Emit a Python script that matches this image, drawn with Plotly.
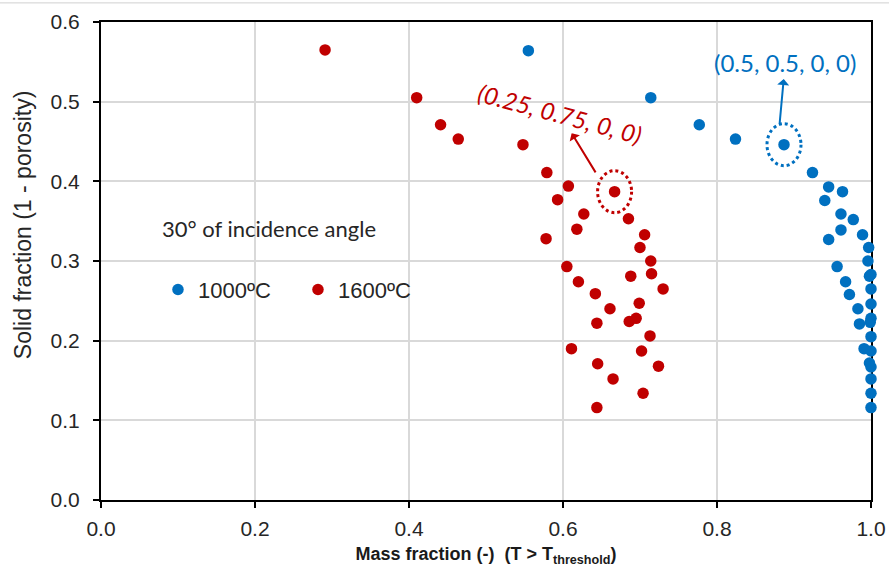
import plotly.graph_objects as go

# ---- data ----
x_1000 = [0.555, 0.714, 0.777, 0.824, 0.887, 0.924, 0.945, 0.963, 0.940, 0.961, 0.977, 0.961,
          0.989, 0.945, 0.997, 0.996, 0.956, 1.000, 0.998, 0.967, 1.000, 0.972, 1.000, 0.983,
          1.000, 0.999, 0.985, 1.000, 0.991, 1.000, 0.998, 1.000, 1.000, 1.000, 1.000]
y_1000 = [0.564, 0.505, 0.471, 0.453, 0.446, 0.411, 0.393, 0.387, 0.376, 0.359, 0.352, 0.339,
          0.333, 0.327, 0.317, 0.300, 0.293, 0.283, 0.281, 0.274, 0.265, 0.258, 0.246, 0.240,
          0.228, 0.223, 0.221, 0.205, 0.190, 0.187, 0.172, 0.167, 0.152, 0.134, 0.116]

x_1600 = [0.291, 0.410, 0.441, 0.464, 0.548, 0.579, 0.607, 0.667, 0.593, 0.627, 0.685, 0.618,
          0.706, 0.578, 0.700, 0.714, 0.605, 0.715, 0.688, 0.620, 0.730, 0.642, 0.699, 0.661,
          0.695, 0.686, 0.644, 0.713, 0.611, 0.702, 0.645, 0.724, 0.665, 0.704, 0.644]
y_1600 = [0.565, 0.505, 0.471, 0.453, 0.446, 0.411, 0.394, 0.387, 0.377, 0.359, 0.353, 0.340,
          0.333, 0.328, 0.317, 0.300, 0.293, 0.284, 0.281, 0.274, 0.265, 0.259, 0.247, 0.240,
          0.228, 0.224, 0.222, 0.206, 0.190, 0.187, 0.171, 0.168, 0.152, 0.134, 0.116]

series_names = ["1000ºC", "1600ºC"]
highlight_1000 = 4   # (0.5, 0.5, 0, 0)
highlight_1600 = 7   # (0.25, 0.75, 0, 0)
label_1000 = "(0.5, 0.5, 0, 0)"
label_1600 = "(0.25, 0.75, 0, 0)"
note_text = "30° of incidence angle"

x_ticks = [0.0, 0.2, 0.4, 0.6, 0.8, 1.0]
y_ticks = [0.0, 0.1, 0.2, 0.3, 0.4, 0.5, 0.6]

BLUE = "#0070C0"
RED = "#C00000"
ARIAL = "Liberation Sans, Arial, sans-serif"
TICKFONT = dict(family=ARIAL, size=21, color="#262626")

fig = go.Figure()
fig.add_trace(go.Scatter(x=x_1000, y=y_1000, mode="markers", name=series_names[0],
                         marker=dict(color=BLUE, size=11.5), cliponaxis=False))
fig.add_trace(go.Scatter(x=x_1600, y=y_1600, mode="markers", name=series_names[1],
                         marker=dict(color=RED, size=11.5), cliponaxis=False))

# dotted ellipses around the highlighted points
for xs, ys, idx, col in [(x_1000, y_1000, highlight_1000, BLUE), (x_1600, y_1600, highlight_1600, RED)]:
    fig.add_shape(type="circle", xref="x", yref="y", xsizemode="pixel", ysizemode="pixel",
                  xanchor=xs[idx], yanchor=ys[idx], x0=-17, x1=17, y0=-21, y1=21,
                  line=dict(color=col, width=3, dash="dot"))

# thin light border line at the very top of the image
fig.add_shape(type="line", xref="paper", yref="paper", x0=-0.14, x1=1.03, y0=1.04, y1=1.04,
              line=dict(color="#d0d0d0", width=1))

annotations = [
    # blue label with arrow pointing from the circled point to the label
    dict(x=x_1000[highlight_1000], y=y_1000[highlight_1000], xref="x", yref="y",
         text=label_1000, showarrow=True, arrowside="start",
         xshift=-4.3, yshift=21.7, ax=5.5, ay=-60,
         arrowhead=2, arrowsize=1, arrowwidth=2, arrowcolor=BLUE,
         font=dict(family="Lato, sans-serif", size=24, color=BLUE)),
    # red label with arrow
    dict(x=x_1600[highlight_1600], y=y_1600[highlight_1600], xref="x", yref="y",
         text="<i>" + label_1600 + "</i>", showarrow=True, arrowside="start",
         xshift=-19, yshift=19.3, ax=-36, ay=-59, textangle=15,
         arrowhead=2, arrowsize=1, arrowwidth=2, arrowcolor=RED,
         font=dict(family="Lato, sans-serif", size=24, color=RED)),
    # note
    dict(x=0.076, y=0.567, xref="paper", yref="paper", xanchor="left", yanchor="middle",
         text=note_text, showarrow=False,
         font=dict(family="Lato, sans-serif", size=22, color="#262626")),
    # y-axis title
    dict(x=-0.102, y=0.576, xref="paper", yref="paper", xanchor="center", yanchor="middle",
         text="Solid fraction (1 - porosity)", textangle=-90, showarrow=False,
         font=dict(family=ARIAL, size=23, color="#262626")),
]

fig.update_layout(
    width=889, height=574,
    margin=dict(l=101, r=18, t=22, b=74, autoexpand=False),
    paper_bgcolor="white", plot_bgcolor="white",
    showlegend=True,
    legend=dict(orientation="h", x=0.074, y=0.44, xanchor="left", yanchor="middle",
                bgcolor="rgba(0,0,0,0)", font=dict(family=ARIAL, size=22, color="#262626"),
                entrywidth=95, entrywidthmode="pixels"),
    annotations=annotations,
    xaxis=dict(range=[0, 1], tickvals=x_ticks, tickformat=".1f", automargin=False,
               showgrid=True, gridcolor="#d9d9d9", gridwidth=1.5,
               showline=True, linecolor="black", linewidth=2, mirror=True,
               ticks="outside", ticklen=6, tickwidth=2, tickcolor="black",
               ticklabelstandoff=3,
               tickfont=TICKFONT, zeroline=False, layer="below traces",
               title=dict(text="<b>Mass fraction (-)  (T > T<sub>threshold</sub>)</b>",
                          font=dict(family=ARIAL, size=18, color="#1a1a1a"),
                          standoff=8)),
    yaxis=dict(range=[0, 0.6], tickvals=y_ticks, tickformat=".1f", automargin=False,
               showgrid=True, gridcolor="#d9d9d9", gridwidth=1.5,
               showline=True, linecolor="black", linewidth=2, mirror=True,
               ticks="outside", ticklen=6, tickwidth=2, tickcolor="black",
               ticklabelstandoff=9,
               tickfont=TICKFONT, zeroline=False, layer="below traces"),
)

fig.write_html("out.html", config={"displayModeBar": False},
               post_script="document.body.style.margin='0px';")
